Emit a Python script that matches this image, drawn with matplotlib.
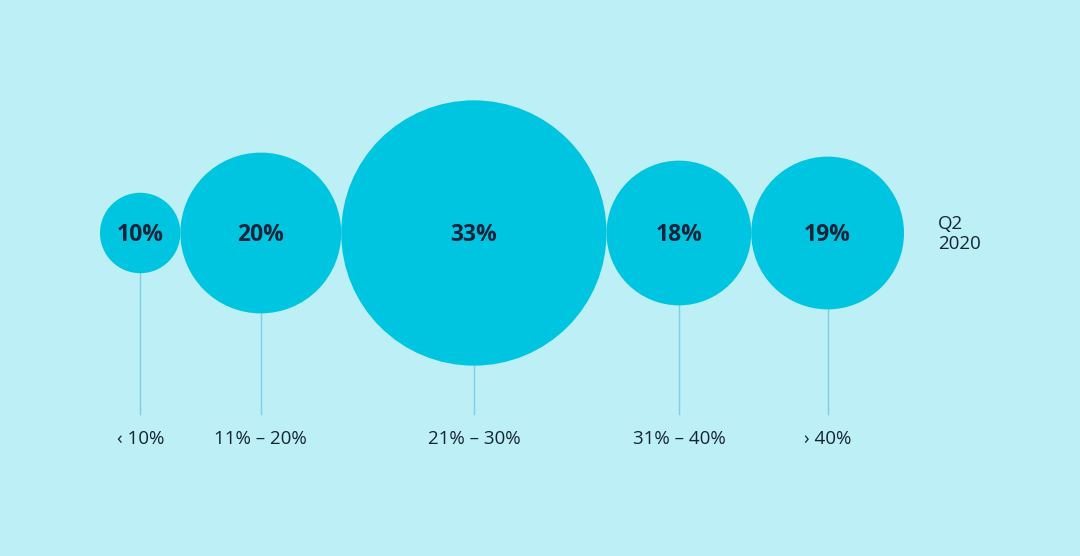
import matplotlib
matplotlib.use("Agg")
from matplotlib import pyplot as plt
from matplotlib.patches import Circle

shares = [10, 20, 33, 18, 19]
ranges = ["‹ 10%", "11% – 20%", "21% – 30%", "31% – 40%", "› 40%"]
period = "Q2\n2020"

bg = "#bdeff6"
bubble = "#00c5e1"
ink = "#14243a"

plt.rcParams['font.family'] = ['Open Sans', 'DejaVu Sans']

fig = plt.figure(figsize=(10.8, 5.56), dpi=100, facecolor=bg)
ax = fig.add_axes([0, 0, 1, 1])
ax.set_facecolor(bg)
ax.set_xlim(0, 1080)
ax.set_ylim(556, 0)
ax.axis("off")

# bubbles touch each other, radius grows linearly with the share
scale = 4.02
cy = 233
x = 100
for val, lab in zip(shares, ranges):
    r = val * scale
    cx = x + r
    ax.add_patch(Circle((cx, cy), r, color=bubble, lw=0, zorder=2))
    ax.plot([cx, cx], [cy + r, 414], color="#7ccfe6", lw=1, zorder=1)
    ax.text(cx, cy + 2, f"{val}%", ha="center", va="center", fontsize=16.5,
            fontweight="bold", color=ink, zorder=3)
    ax.text(cx, 439, lab, ha="center", va="center", fontsize=13.5, color=ink)
    x = cx + r

ax.text(938, 234, period, ha="left", va="center", fontsize=13.5, color=ink,
        linespacing=1.2)

fig.savefig("out.png", dpi=100, facecolor=bg)
